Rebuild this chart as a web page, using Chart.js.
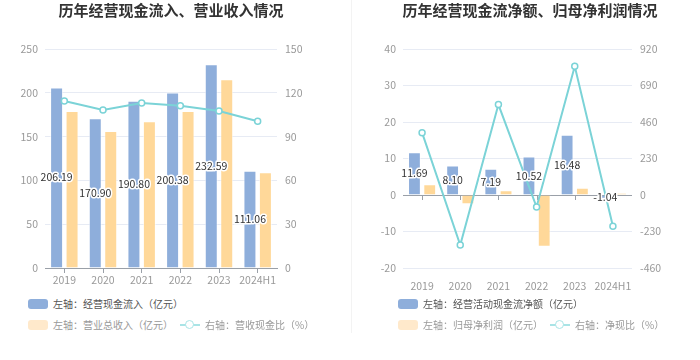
<!DOCTYPE html>
<html><head><meta charset="utf-8">
<script src="https://cdn.jsdelivr.net/npm/chart.js@4.4.1/dist/chart.umd.min.js"></script>
<style>
html,body{margin:0;padding:0;background:#fff;width:700px;height:360px;overflow:hidden;font-family:"Noto Sans CJK SC",sans-serif;}
#wrap{position:relative;width:700px;height:360px;}
canvas{position:absolute;top:0;}
.title{position:absolute;top:0px;font-size:15px;font-weight:bold;color:#333;white-space:nowrap;transform:translateX(-50%);line-height:20px;}
.divider{position:absolute;left:351px;top:0;width:1px;height:333px;background:#f3f3f3;}
.lg{position:absolute;font-size:10px;line-height:14px;white-space:nowrap;color:#555;}
.lg.dim{color:#999;}
.box{position:absolute;width:20px;height:10px;border-radius:3px;}
.lineicon{position:absolute;width:20px;height:10px;}
.lineicon:before{content:"";position:absolute;left:0;top:4px;width:20px;height:2px;background:#a9e4e6;}
.lineicon:after{content:"";position:absolute;left:5px;top:0px;width:7px;height:7px;border:1.5px solid #a9e4e6;border-radius:50%;background:#fff;}
</style>
</head><body>
<div id="wrap">
  <canvas id="c1" width="350" height="292" style="left:0"></canvas>
  <canvas id="c2" width="350" height="292" style="left:350px"></canvas>
  <div class="divider"></div>
  <div class="title" style="left:171px">历年经营现金流入、营业收入情况</div>
  <div class="title" style="left:530px">历年经营现金流净额、归母净利润情况</div>

  <div class="box" style="left:28px;top:299px;background:#8eaedb"></div>
  <div class="lg" style="left:53px;top:297px">左轴：经营现金流入（亿元）</div>
  <div class="box" style="left:28px;top:320px;background:#ffe9cb"></div>
  <div class="lg dim" style="left:53px;top:318px">左轴：营业总收入（亿元）</div>
  <div class="lineicon" style="left:180px;top:320px"></div>
  <div class="lg dim" style="left:205px;top:318px">右轴：营收现金比（%）</div>

  <div class="box" style="left:398px;top:299px;background:#8eaedb"></div>
  <div class="lg" style="left:423px;top:297px">左轴：经营活动现金流净额（亿元）</div>
  <div class="box" style="left:398px;top:320px;background:#ffe9cb"></div>
  <div class="lg dim" style="left:423px;top:318px">左轴：归母净利润（亿元）</div>
  <div class="lineicon" style="left:550px;top:320px"></div>
  <div class="lg dim" style="left:575px;top:318px">右轴：净现比（%）</div>
</div>
<script>
// ---- data ----
const years = ['2019','2020','2021','2022','2023','2024H1'];
// left chart
const cashInflow = [206.19,170.90,190.80,200.38,232.59,111.06];
const totalRevenue = [179.2,156.4,167.5,179.2,215.4,109.2];
const cashRevenueRatio = [114.4,108.2,113.0,111.2,107.5,100.5];
const leftTicksL = [0,50,100,150,200,250];
const leftTicksR = [0,30,60,90,120,150];
// right chart
const netCashFlow = [11.69,8.10,7.19,10.52,16.48,-1.04];
const netProfit = [2.93,-2.55,1.29,-14.2,2.0,0.53];
const netCashRatio = [393,-315,570,-76,811,-197];
const rightTicksL = [-20,-10,0,10,20,30,40];
const rightTicksR = [-460,-230,0,230,460,690,920];

const BLUE='#8eaedb', ORANGE='#ffd899', TEAL='#7bd3d7', GRID='#e7ebf4', AXIS='#9aa0a8';
const tickFont = {family:'"Noto Sans CJK SC", sans-serif', size:10.5};

const labelPlugin = {
  id:'barLabels',
  afterDatasetsDraw(chart){
    const ctx = chart.ctx;
    const meta = chart.getDatasetMeta(0);
    const data = chart.data.datasets[0].data;
    ctx.save();
    ctx.font = '10.5px "Noto Sans CJK SC", sans-serif';
    ctx.textAlign='center'; ctx.textBaseline='middle';
    ctx.lineJoin='round';
    meta.data.forEach((el,i)=>{
      const x = el.x, y = (el.y + el.base)/2;
      const t = data[i].toFixed(2);
      ctx.lineWidth=3; ctx.strokeStyle='#fff'; ctx.strokeText(t,x,y);
      ctx.fillStyle='#333'; ctx.fillText(t,x,y);
    });
    ctx.restore();
  }
};
const zeroTickPlugin = {
  id:'zeroTicks',
  beforeDatasetsDraw(chart){
    const xs = chart.scales.x, ys = chart.scales.y;
    const y0 = ys.getPixelForValue(0);
    const ctx = chart.ctx;
    ctx.save(); ctx.strokeStyle=AXIS; ctx.lineWidth=1;
    ctx.beginPath();
    ctx.moveTo(chart.chartArea.left, Math.round(y0)+0.5);
    ctx.lineTo(chart.chartArea.right, Math.round(y0)+0.5);
    for(let i=0;i<xs.ticks.length;i++){
      const x = Math.round(xs.getPixelForTick(i))+0.5;
      ctx.moveTo(x, y0); ctx.lineTo(x, y0+5);
    }
    ctx.stroke(); ctx.restore();
  }
};

function makeChart(id, barA, barB, line, yl, yr, leftW, rightW, withBottomAxis){
  const ylMin=yl[0], ylMax=yl[yl.length-1], yrMin=yr[0], yrMax=yr[yr.length-1];
  return new Chart(document.getElementById(id),{
    type:'bar',
    data:{labels:years,datasets:[
      {type:'bar',data:barA,backgroundColor:BLUE,borderColor:'rgba(255,255,255,0.6)',borderWidth:1,yAxisID:'y',order:2,categoryPercentage:0.8,barPercentage:0.84},
      {type:'bar',data:barB,backgroundColor:ORANGE,borderColor:'rgba(255,255,255,0.6)',borderWidth:1,yAxisID:'y',order:3,categoryPercentage:0.8,barPercentage:0.84},
      {type:'line',data:line,borderColor:TEAL,borderWidth:2,pointRadius:3,pointBorderWidth:1.5,pointBackgroundColor:'#fff',pointBorderColor:TEAL,yAxisID:'y1',order:0,tension:0}
    ]},
    options:{
      responsive:false,animation:false,
      layout:{padding:{top:49,left:0,right:0,bottom:2}},
      plugins:{legend:{display:false},tooltip:{enabled:false},title:{display:false}},
      scales:{
        x:{
          afterFit(s){s.height=292-2-268;},
          grid:{display:withBottomAxis,drawOnChartArea:false,offset:false,tickLength:5,color:AXIS},
          border:{display:withBottomAxis,color:AXIS},
          ticks:{color:'#999',font:tickFont,padding:withBottomAxis?1:7,maxRotation:0,minRotation:0,autoSkip:false}
        },
        y:{
          position:'left',min:ylMin,max:ylMax,
          afterBuildTicks(s){s.ticks=yl.map(v=>({value:v}));},
          afterFit(s){s.width=leftW;},
          grid:{drawTicks:false,color:(c)=> (c.tick && c.tick.value===0 && withBottomAxis)?AXIS:GRID},
          border:{display:false},
          ticks:{color:'#999',font:tickFont,padding:7}
        },
        y1:{
          position:'right',min:yrMin,max:yrMax,
          afterBuildTicks(s){s.ticks=yr.map(v=>({value:v}));},
          afterFit(s){s.width=rightW;},
          grid:{display:false,drawTicks:false},
          border:{display:false},
          ticks:{color:'#999',font:tickFont,padding:8}
        }
      }
    },
    plugins: withBottomAxis ? [labelPlugin] : [zeroTickPlugin, labelPlugin]
  });
}
makeChart('c1', cashInflow, totalRevenue, cashRevenueRatio, leftTicksL, leftTicksR, 45, 73, true);
makeChart('c2', netCashFlow, netProfit, netCashRatio, rightTicksL, rightTicksR, 53, 68, false);
</script>
</body></html>
